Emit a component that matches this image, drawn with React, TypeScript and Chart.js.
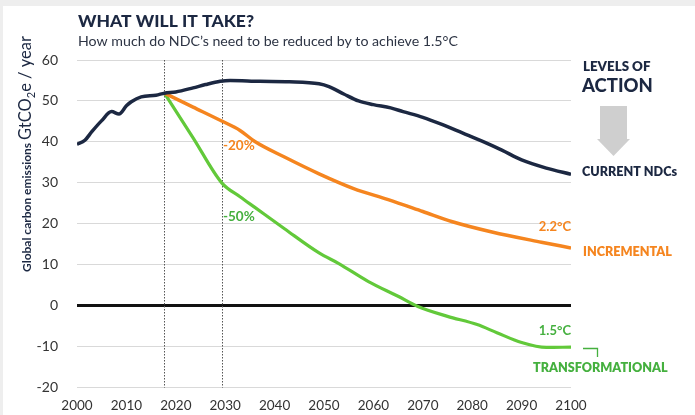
import React, { useEffect, useRef } from "react";
import { Chart, registerables } from "chart.js";

Chart.register(...registerables);

// ---- data ----
const xTickValues = [2000, 2010, 2020, 2030, 2040, 2050, 2060, 2070, 2080, 2090, 2100];
const yTickValues = [-20, -10, 0, 10, 20, 30, 40, 50, 60];
const milestoneYears = [2017.7, 2029.3];

const currentYears = [2000, 2001.6, 2003, 2005, 2007, 2008.5, 2010, 2011, 2013, 2016, 2017.7, 2020, 2023.5, 2026, 2029, 2031, 2037, 2043, 2049, 2051, 2054, 2057, 2060, 2063.5, 2066, 2070, 2074, 2078, 2082, 2086, 2090, 2095, 2100];
const currentValues = [39.4, 40.4, 42.5, 45.2, 47.4, 46.8, 48.8, 49.8, 51.0, 51.4, 51.9, 52.2, 53.2, 54.0, 54.8, 55.0, 54.8, 54.7, 54.2, 53.5, 51.7, 50.0, 49.1, 48.3, 47.4, 46.0, 44.2, 42.2, 40.2, 38.0, 35.6, 33.6, 32.1];

const incrementalYears = [2017.7, 2023.5, 2029.3, 2033, 2036, 2042, 2049, 2056, 2063, 2070, 2076, 2084, 2094, 2100];
const incrementalValues = [51.9, 48.5, 45.1, 42.8, 40.1, 36.3, 32.2, 28.6, 25.9, 23.0, 20.5, 18.0, 15.5, 14.1];

const transformationalYears = [2017.7, 2023.5, 2029.3, 2033, 2036, 2042, 2049, 2053, 2059, 2065, 2069, 2075, 2081, 2085, 2090, 2095, 2100];
const transformationalValues = [51.9, 41.0, 30.0, 26.6, 24.0, 18.8, 12.9, 10.3, 5.9, 2.3, -0.2, -2.6, -4.6, -6.6, -9.0, -10.2, -10.1];

const NAVY = "#1c2842";
const ORANGE = "#f5851f";
const GREEN = "#62c93a";
const GREEN_TEXT = "#45b03f";
const FONT = "Lato, 'Open Sans', sans-serif";

const toPoints = (xs: number[], ys: number[]) => xs.map((x, i) => ({ x, y: ys[i] }));

const annotationPlugin = {
  id: "annotations",
  beforeDatasetsDraw(chart: any) {
    const { ctx, chartArea, scales } = chart;
    ctx.save();
    ctx.strokeStyle = "#555";
    ctx.lineWidth = 1;
    ctx.setLineDash([1.5, 1.5]);
    milestoneYears.forEach((yr) => {
      const x = Math.round(scales.x.getPixelForValue(yr)) + 0.5;
      ctx.beginPath();
      ctx.moveTo(x, chartArea.top);
      ctx.lineTo(x, chartArea.bottom);
      ctx.stroke();
    });
    ctx.restore();
  },
  afterDatasetsDraw(chart: any) {
    const { ctx, chartArea, scales } = chart;
    const xs = scales.x, ys = scales.y;
    ctx.save();
    ctx.textBaseline = "alphabetic";

    // Title and subtitle
    ctx.fillStyle = NAVY;
    ctx.textAlign = "left";
    ctx.font = `900 17.5px ${FONT}`;
    ctx.fillText("WHAT WILL IT TAKE?", 78, 27);
    ctx.fillStyle = "#2d3444";
    ctx.font = `400 14.2px ${FONT}`;
    ctx.fillText("How much do NDC\u2019s need to be reduced by to achieve 1.5\u00B0C", 78, 46);

    // Y axis title (rotated)
    ctx.save();
    ctx.translate(31, 272);
    ctx.rotate(-Math.PI / 2);
    ctx.fillStyle = NAVY;
    ctx.textAlign = "left";
    let cx = 0;
    ctx.font = `700 12px ${FONT}`;
    const p1 = "Global carbon emissions ";
    ctx.fillText(p1, cx, 0);
    cx += ctx.measureText(p1).width;
    ctx.font = `400 16.5px ${FONT}`;
    ctx.fillText("GtCO", cx, 0);
    cx += ctx.measureText("GtCO").width;
    ctx.font = `400 11px ${FONT}`;
    ctx.fillText("2", cx, 3.5);
    cx += ctx.measureText("2").width;
    ctx.font = `400 16.5px ${FONT}`;
    ctx.fillText("e / year", cx, 0);
    ctx.restore();

    ctx.textBaseline = "middle";
    // Percent labels
    const xm = Math.round(xs.getPixelForValue(milestoneYears[1])) + 1;
    ctx.font = `700 13.5px ${FONT}`;
    ctx.textAlign = "left";
    ctx.fillStyle = ORANGE;
    ctx.fillText("-20%", xm, ys.getPixelForValue(39.2));
    ctx.fillStyle = GREEN_TEXT;
    ctx.fillText("-50%", xm, ys.getPixelForValue(21.8));

    // Temperature labels
    ctx.textAlign = "right";
    ctx.font = `700 13px ${FONT}`;
    ctx.fillStyle = ORANGE;
    ctx.fillText("2.2\u00B0C", chartArea.right, ys.getPixelForValue(19.2));
    ctx.fillStyle = GREEN_TEXT;
    ctx.fillText("1.5\u00B0C", chartArea.right, ys.getPixelForValue(-6.1));

    // Right side: levels of action
    ctx.textAlign = "left";
    ctx.fillStyle = NAVY;
    ctx.font = `800 13.3px ${FONT}`;
    ctx.fillText("LEVELS OF", 583, 67);
    ctx.font = `900 18.5px ${FONT}`;
    ctx.fillText("ACTION", 582, 86);

    // Arrow
    ctx.fillStyle = "#cfcfcf";
    ctx.fillRect(600, 106, 27, 34);
    ctx.beginPath();
    ctx.moveTo(597, 139);
    ctx.lineTo(630, 139);
    ctx.lineTo(613.5, 156);
    ctx.closePath();
    ctx.fill();

    ctx.font = `800 12.6px ${FONT}`;
    ctx.fillStyle = NAVY;
    ctx.fillText("CURRENT NDCs", 582, 172);
    ctx.fillStyle = ORANGE;
    ctx.fillText("INCREMENTAL", 583, 252);
    ctx.fillStyle = GREEN_TEXT;
    ctx.fillText("TRANSFORMATIONAL", 533, 368);

    // bracket
    ctx.strokeStyle = GREEN_TEXT;
    ctx.lineWidth = 1.3;
    ctx.beginPath();
    ctx.moveTo(583, 348.5);
    ctx.lineTo(597.5, 348.5);
    ctx.lineTo(597.5, 357);
    ctx.stroke();

    ctx.restore();
  },
};

export default function App() {
  const ref = useRef<HTMLCanvasElement>(null);
  useEffect(() => {
    document.body.style.margin = "0";
    const chart = new Chart(ref.current as HTMLCanvasElement, {
      type: "line",
      data: {
        datasets: [
          {
            label: "Current NDCs",
            data: toPoints(currentYears, currentValues),
            borderColor: NAVY,
            borderWidth: 3.5,
            pointRadius: 0,
            cubicInterpolationMode: "monotone",
          },
          {
            label: "Incremental",
            data: toPoints(incrementalYears, incrementalValues),
            borderColor: ORANGE,
            borderWidth: 3.5,
            pointRadius: 0,
            cubicInterpolationMode: "monotone",
          },
          {
            label: "Transformational",
            data: toPoints(transformationalYears, transformationalValues),
            borderColor: GREEN,
            borderWidth: 3.2,
            pointRadius: 0,
            cubicInterpolationMode: "monotone",
          },
        ],
      },
      options: {
        responsive: false,
        animation: false,
        events: [],
        layout: { padding: { top: 60, right: 124, bottom: 0, left: 0 } },
        plugins: { legend: { display: false }, tooltip: { enabled: false }, title: { display: false } },
        scales: {
          x: {
            type: "linear",
            min: 2000,
            max: 2100,
            afterFit: (s: any) => { s.height = 26; },
            afterBuildTicks: (s: any) => { s.ticks = xTickValues.map((v) => ({ value: v })); },
            grid: { display: false, drawTicks: false },
            border: { display: false },
            ticks: {
              padding: 10,
              color: "#333",
              font: { family: FONT, size: 13.5 },
              maxRotation: 0,
              autoSkip: false,
              callback: (v: any) => String(v),
            },
          },
          y: {
            min: -20,
            max: 60,
            afterFit: (s: any) => { s.width = 77; },
            afterBuildTicks: (s: any) => { s.ticks = yTickValues.map((v) => ({ value: v })); },
            grid: {
              drawTicks: false,
              color: (c: any) => (c.tick && c.tick.value === 0 ? "#111" : "#d9d9d9"),
              lineWidth: (c: any) => (c.tick && c.tick.value === 0 ? 3 : 1),
            },
            border: { display: false },
            ticks: {
              padding: 19,
              color: "#333",
              font: { family: FONT, size: 14 },
              callback: (v: any) => String(v),
            },
          },
        },
      },
      plugins: [annotationPlugin],
    } as any);
    return () => chart.destroy();
  }, []);

  return (
    <div style={{ position: "relative", width: 695, height: 415, background: "#eeeeee", overflow: "hidden" }}>
      <div style={{ position: "absolute", left: 3, top: 6, right: 0, bottom: 0, background: "#ffffff" }} />
      <canvas
        ref={ref}
        width={695}
        height={415}
        style={{ position: "absolute", left: 0, top: 0, width: 695, height: 415 }}
      />
    </div>
  );
}
